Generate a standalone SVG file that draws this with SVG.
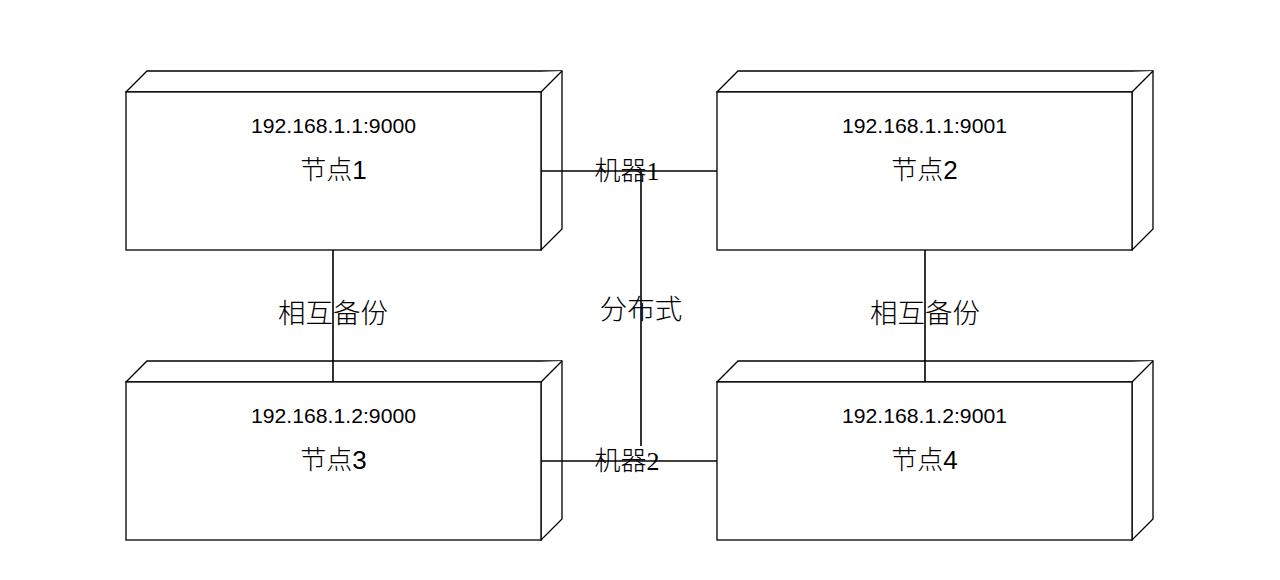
<svg xmlns="http://www.w3.org/2000/svg" width="1280" height="580" viewBox="0 0 1280 580">
<style>
.box{fill:#fff;stroke:#000;stroke-width:1.3}
.ln{fill:none;stroke:#000;stroke-width:1.6}
.ip{font-family:"Liberation Sans","Noto Sans CJK SC",sans-serif;font-size:20px;fill:#000;text-anchor:middle}
.nm{font-family:"Liberation Sans","Noto Sans CJK SC",sans-serif;font-size:26px;font-weight:300;fill:#000;text-anchor:middle}
.lb{font-family:"Noto Sans CJK SC",sans-serif;font-size:27.5px;font-weight:300;fill:#000;text-anchor:middle}
.mc{font-family:"Liberation Serif","Noto Sans CJK SC",serif;font-size:26px;font-weight:300;fill:#000;text-anchor:middle}
</style>
<defs>
<g id="cube">
<path class="box" d="M0,0 L21,-21 L436,-21 L436,137 L415,158 Z"/>
<path class="box" d="M0,0 L415,0 L436,-21 M415,0 L415,158"/>
<rect class="box" x="0" y="0" width="415" height="158"/>
</g>
</defs>
<g id="node1" transform="translate(126,92)">
<use href="#cube"/>
<text class="ip" x="207.5" y="41" textLength="165" lengthAdjust="spacingAndGlyphs">192.168.1.1:9000</text>
<text class="nm" x="207.5" y="87">节点1</text>
</g>
<g id="node2" transform="translate(717,92)">
<use href="#cube"/>
<text class="ip" x="207.5" y="41" textLength="165" lengthAdjust="spacingAndGlyphs">192.168.1.1:9001</text>
<text class="nm" x="207.5" y="87">节点2</text>
</g>
<g id="node3" transform="translate(126,382)">
<use href="#cube"/>
<text class="ip" x="207.5" y="41" textLength="165" lengthAdjust="spacingAndGlyphs">192.168.1.2:9000</text>
<text class="nm" x="207.5" y="87">节点3</text>
</g>
<g id="node4" transform="translate(717,382)">
<use href="#cube"/>
<text class="ip" x="207.5" y="41" textLength="165" lengthAdjust="spacingAndGlyphs">192.168.1.2:9001</text>
<text class="nm" x="207.5" y="87">节点4</text>
</g>
<g id="connectors">
<line class="ln" x1="541" y1="171" x2="717" y2="171"/>
<line class="ln" x1="541" y1="461" x2="717" y2="461"/>
<line class="ln" x1="641" y1="171" x2="641" y2="446"/>
<line class="ln" x1="333" y1="250" x2="333" y2="382"/>
<line class="ln" x1="925" y1="250" x2="925" y2="382"/>
<text class="mc" x="627" y="180">机器1</text>
<text class="mc" x="627" y="470">机器2</text>
<text class="lb" x="641" y="319">分布式</text>
<text class="lb" x="333" y="323">相互备份</text>
<text class="lb" x="925" y="323">相互备份</text>
</g>
</svg>
